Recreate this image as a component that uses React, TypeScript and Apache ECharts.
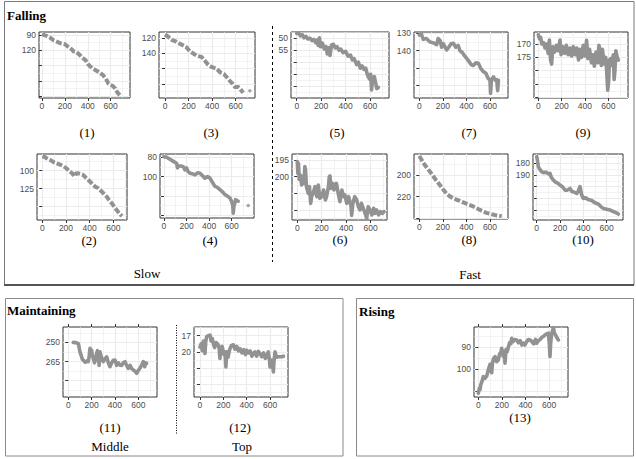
import React, { useEffect, useRef } from "react";
import * as echarts from "echarts";

// ---------- data (x = step, y = value; y axes are reversed) ----------
const xMajor = [0, 200, 400, 600];
const xMinor = [100, 300, 500, 700];

const p1 = [[0,88],[20,90],[45,92],[70,95],[100,100],[130,103],[160,106],[200,108],[230,113],[260,118],[275,122],[300,123],[330,129],[350,134],[380,139],[405,148],[420,151],[445,156],[470,159],[500,163],[530,168],[555,174],[580,185],[600,188],[620,190],[640,195],[660,203],[680,208],[695,210]];
const p3 = [[0,115],[20,117],[57,122],[90,124],[113,126],[150,129],[184,132],[210,137],[240,140],[270,143],[311,144.5],[340,150],[367,155],[400,158],[438,160],[470,165],[500,167],[523,171],[550,176],[575,180],[593,184],[620,184],[636,186],[650,189],[663,192]];
const p3Extra = [[720,189]];
const p5 = [[0,48],[15,47.8],[30,49],[45,48.5],[60,49.8],[75,49.2],[90,50.3],[110,50],[125,51],[140,50.5],[155,51.8],[165,50.8],[175,53],[185,49.8],[195,53.5],[210,52],[225,54.5],[240,53.5],[250,56.5],[262,54],[272,57.2],[285,52.8],[300,52.5],[315,54],[330,53.5],[345,55],[360,54.5],[380,56],[400,55.5],[420,57.5],[440,57],[455,59],[470,58.5],[490,61],[505,60],[520,62.5],[535,61.5],[550,63],[565,62.5],[580,65.5],[595,67],[605,65],[612,71.5],[620,67.5],[635,66],[645,68.5],[655,71],[668,70.5]];
const p7 = [[0,131],[15,130],[34,133.5],[60,133],[91,135],[120,135.5],[148,136.5],[160,133],[176,134],[190,138],[205,136],[232,139.6],[250,138],[270,136],[289,135.7],[310,138],[330,137],[345,140],[365,141],[385,143],[402,144.4],[420,146],[440,148],[458,148.5],[480,147],[501,147.2],[520,150],[543,152],[565,153],[585,156],[600,156.8],[605,164.5],[612,157],[630,155],[645,157],[657,156.8],[665,163],[672,157]];
const p9 = [[0,166.5],[10,168],[20,167.5],[30,170],[45,169.5],[57,171.5],[70,170],[85,173.5],[95,168.5],[105,176],[114,177.5],[125,171],[140,173],[155,170.5],[170,172.5],[186,168.5],[195,174],[210,171],[225,173.5],[240,170.5],[255,174],[271,171.5],[285,174.5],[300,171],[315,174],[330,171.5],[345,176],[357,172],[370,175],[385,170.5],[400,174.5],[414,168.6],[425,175.5],[440,172],[455,177],[471,174],[480,178.3],[495,173],[510,177],[520,170.5],[529,172.2],[540,178],[550,172],[565,177.5],[578,175],[586,180],[595,187.3],[603,184],[610,176],[620,175.5],[630,178],[643,174],[650,183.3],[657,180],[665,172.5],[675,174.7],[686,176]];
const p2 = [[0,80],[20,81],[40,83],[65,85],[95,88],[122,89.7],[150,91.5],[178,93.5],[205,97],[234,101.4],[255,104],[270,108],[285,104],[304,103.6],[330,105],[347,106],[370,110],[389,112.9],[415,117],[446,122.2],[470,124],[488,126.8],[515,131],[544,136],[565,141],[587,145.3],[600,148],[615,152],[629,154.6],[645,158],[660,161],[675,163]];
const p4 = [[0,79.4],[25,80],[53,82.1],[80,84],[112,86.2],[120,91],[130,89],[150,89],[171,89.7],[186,93],[200,91],[215,95],[230,96.5],[250,97],[275,98.2],[300,96],[319,96.5],[340,99],[363,101.6],[385,100],[408,101.6],[425,105],[440,108],[452,110.2],[470,111],[496,113.6],[520,116],[541,118.8],[560,120],[585,122.2],[600,126],[610,130],[614,137.9],[620,131],[635,124],[658,125.6]];
const p4Extra = [[747,130]];
const p6 = [[0,195.5],[5,199],[10,196],[16,200.8],[25,199.5],[36,202.5],[45,200],[55,202],[62,197],[68,198],[75,203],[90,205],[100,203],[110,208],[117,206],[130,205],[145,203],[160,206],[172,202.5],[185,206.5],[199,206],[215,204],[230,207],[240,205.9],[255,203],[262,200],[268,199.8],[275,203.5],[290,202],[300,204],[309,203],[320,202],[335,205],[349,207.5],[365,204],[380,206],[390,205.5],[405,208],[420,206],[431,207.5],[440,209],[445,211.6],[455,208],[470,206],[486,207],[500,209],[513,210],[525,208],[540,209.5],[555,211],[568,212.5],[580,209],[595,210],[610,211.5],[625,209.5],[636,211],[650,210],[665,211.5],[680,210.5],[695,211],[710,210.5]];
const p8 = [[0,182.5],[17,185.5],[34,188.7],[55,192],[76,195],[98,198],[119,201.2],[140,204.5],[161,207.4],[183,210.5],[204,213.6],[230,217],[260,219.8],[290,221.5],[317,222.9],[345,224],[374,225.4],[415,227.3],[458,229.1],[500,231.5],[543,233.8],[570,235],[600,235.9],[640,237],[685,237.8],[700,238]];
const p10 = [[0,174.3],[7,178],[14,182.9],[25,185],[43,187.2],[60,188],[80,187.5],[100,189],[114,188.6],[125,192],[143,194.3],[160,196],[180,197],[200,198.6],[220,200],[243,202.9],[260,203],[286,201.5],[300,204],[320,204.5],[343,205.8],[355,204],[371,200],[385,207],[400,210],[420,209.5],[440,211],[457,211.4],[475,212],[495,213.5],[514,214.3],[530,215],[550,217],[571,218.6],[590,219],[610,219.5],[629,220],[650,221],[675,222],[700,223.4]];
const p11 = [[43,250],[60,250.2],[86,250.8],[93,254],[100,257.3],[110,260],[120,263],[129,264],[145,265.5],[160,264.5],[171,265.1],[178,262],[186,254.7],[195,257],[200,256],[206,260],[214,262.2],[225,266],[235,263],[243,258.6],[250,256.5],[257,258],[264,268],[271,257.3],[285,262],[300,265.1],[314,263],[329,261.3],[343,266],[357,269],[372,266],[386,264],[400,263.8],[415,268],[429,266],[443,267.7],[457,268],[472,266],[486,265.1],[500,268],[514,270.3],[529,268],[543,270.5],[557,271.6],[572,272.5],[586,274.2],[600,272],[615,270],[629,267.7],[643,265],[655,269],[662,266],[671,266.4]];
const p12 = [[0,19.1],[10,18.5],[20,19.8],[29,18],[36,18.7],[43,20.3],[50,18],[57,17.2],[70,17],[86,16.9],[95,18],[105,17.5],[114,18.4],[125,19.2],[140,18.3],[157,18.7],[165,19.5],[171,21.2],[178,19.5],[190,19],[205,20.5],[215,20],[222,22.8],[229,20],[240,21],[255,19.5],[270,18.8],[286,18.7],[300,19.5],[315,19],[330,19.8],[343,19.4],[360,20.2],[375,19.6],[390,20.5],[400,19.7],[415,20.2],[430,19.8],[445,20.8],[457,20.3],[470,20],[485,20.8],[500,19.9],[514,20.3],[530,20.9],[545,20.2],[560,21.2],[571,20.9],[585,20],[595,21.5],[600,22.8],[610,21.5],[620,22],[629,23.7],[635,21.5],[643,20],[655,21],[670,20.9],[685,20.9],[700,20.9],[715,20.8]];
const p13 = [[0,110.7],[8,108.5],[15,109],[20,106.9],[30,105.5],[42,103.2],[55,104],[71,103],[85,100],[99,97.7],[106,100],[113,101.5],[120,97],[130,95],[142,94.2],[155,96.5],[170,95.7],[180,93],[190,92.5],[198,90.5],[210,94],[220,92],[226,97.2],[235,91],[245,92],[255,89.9],[265,88],[275,88.5],[283,86],[295,87.5],[310,86.5],[325,86.7],[340,88],[355,87],[370,89],[382,88.2],[395,89],[410,87.5],[425,86.5],[439,86.7],[455,87.5],[470,88.5],[485,86.5],[495,88.2],[510,87],[525,86.5],[540,85.5],[552,85.2],[565,84.5],[580,84],[594,83.7],[602,88],[608,94.2],[614,88],[622,84],[630,82.5],[637,81.2],[645,83.5],[660,85],[670,86],[679,86.7]];

// y tick values / labelled ticks / minor grid values per panel
const yT1 = [90,120,150,180,210], yL1 = [90,120], yM1 = [105,135,165,195];
const yT3 = [120,140,160,180], yL3 = [120,140], yM3 = [130,150,170,190];
const yT5 = [50,55,60,65,70], yL5 = [50,55], yM5 = [47.5,52.5,57.5,62.5,67.5,72.5];
const yT7 = [130,140,150,160], yL7 = [130,140], yM7 = [135,145,155,165];
const yT9 = [170,175,180,185,190], yL9 = [170,175], yM9 = [167.5,172.5,177.5,182.5,187.5];
const yT2 = [100,125,150], yL2 = [100,125], yM2 = [87.5,112.5,137.5,162.5];
const yT4 = [80,100,120,140], yL4 = [80,100], yM4 = [90,110,130];
const yT6 = [195,200,205,210], yL6 = [195,200], yM6 = [197.5,202.5,207.5,212.5];
const yT8 = [200,220,240], yL8 = [200,220], yM8 = [190,210,230];
const yT10 = [180,190,200,210,220], yL10 = [180,190], yM10 = [175,185,195,205,215,225];
const yT11 = [250,265,280], yL11 = [250,265], yM11 = [242.5,257.5,272.5,287.5];
const yT12 = [17,20,23,26], yL12 = [17,20], yM12 = [15.5,18.5,21.5,24.5,27.5];
const yT13 = [90,100,110], yL13 = [90,100], yM13 = [85,95,105];

// ---------- layout ----------
const panels: any[] = [
  { name: "(1)", data: p1, l: 39, t: 32, r: 130, b: 98, x: [-26, 769], y: [84, 213.5], yt: yT1, yl: yL1, ym: yM1, dashed: true, lx: 87, ly: 132 },
  { name: "(3)", data: p3, extra: p3Extra, l: 159, t: 32, r: 255, b: 98, x: [-51, 764], y: [111.7, 198.6], yt: yT3, yl: yL3, ym: yM3, dashed: true, lx: 211, ly: 132 },
  { name: "(5)", data: p5, l: 291, t: 32, r: 389, b: 98, x: [-47, 755], y: [47.4, 74.9], yt: yT5, yl: yL5, ym: yM5, lx: 337, ly: 132 },
  { name: "(7)", data: p7, l: 414, t: 32, r: 508, b: 98, x: [-45, 753], y: [129.25, 167.2], yt: yT7, yl: yL7, ym: yM7, lx: 469, ly: 132 },
  { name: "(9)", data: p9, l: 534, t: 32, r: 628, b: 98, x: [-37, 769], y: [165.5, 190.2], yt: yT9, yl: yL9, ym: yM9, lx: 583, ly: 132 },
  { name: "(2)", data: p2, l: 37, t: 154, r: 127, b: 220, x: [-45, 716], y: [76.8, 168.5], yt: yT2, yl: yL2, ym: yM2, dashed: true, lx: 89, ly: 240 },
  { name: "(4)", data: p4, extra: p4Extra, l: 160, t: 154, r: 254, b: 218, x: [-35, 798], y: [76.6, 143], yt: yT4, yl: yL4, ym: yM4, lx: 210, ly: 240 },
  { name: "(6)", data: p6, l: 292, t: 154, r: 387, b: 220, x: [-43, 734], y: [193.2, 213], yt: yT6, yl: yL6, ym: yM6, lx: 340, ly: 239 },
  { name: "(8)", data: p8, l: 414, t: 154, r: 508, b: 219, x: [-45, 753], y: [180.6, 240.7], yt: yT8, yl: yL8, ym: yM8, dashed: true, lx: 469, ly: 239 },
  { name: "(10)", data: p10, l: 533, t: 154, r: 623, b: 220, x: [-32, 740], y: [172, 228.5], yt: yT10, yl: yL10, ym: yM10, lx: 583, ly: 239 },
  { name: "(11)", data: p11, l: 63, t: 327, r: 157, b: 397, x: [-45, 760], y: [238, 292.7], yt: yT11, yl: yL11, ym: yM11, topTicks: true, lx: 110, ly: 427 },
  { name: "(12)", data: p12, l: 194, t: 327, r: 288, b: 397, x: [-51, 754], y: [15.4, 28.35], yt: yT12, yl: yL12, ym: yM12, lx: 240, ly: 427 },
  { name: "(13)", data: p13, l: 474, t: 327, r: 568, b: 397, x: [-37, 761], y: [80.9, 112.4], yt: yT13, yl: yL13, ym: yM13, topTicks: true, lx: 520, ly: 417 },
];

const SANS = '"Liberation Sans", Arial, sans-serif';
const SERIF = "Liberation Serif";
const GRID = "#ebebeb";
const MARK = "#929292";

function buildOption() {
  const grid: any[] = [];
  const xAxis: any[] = [];
  const yAxis: any[] = [];
  const series: any[] = [];
  const graphic: any[] = [];

  const txt = (text: string, x: number, y: number, bold = false, align = "left") => ({
    type: "text", x, y, silent: true,
    style: {
      text, fontFamily: SERIF, fontSize: 13, fontWeight: bold ? "bold" : "normal", fill: "#000",
      textAlign: align, textVerticalAlign: "middle", align, verticalAlign: "middle",
    },
  });

  panels.forEach((p, i) => {
    grid.push({
      left: p.l, top: p.t, width: p.r - p.l, height: p.b - p.t,
      show: true, borderColor: "#333", borderWidth: 1, backgroundColor: "#fff",
      containLabel: false, outerBoundsMode: "none",
    });
    const xi = xAxis.length;
    xAxis.push({
      gridIndex: i, type: "value", min: p.x[0], max: p.x[1], position: "bottom",
      axisLine: { show: false },
      axisTick: { show: true, customValues: xMajor, length: 3, lineStyle: { color: "#333", width: 1 } },
      axisLabel: { customValues: xMajor, fontSize: 8.5, color: "#4d4d4d", margin: 3, fontFamily: SANS },
      splitLine: { show: true, lineStyle: { color: GRID, width: 1.2 } },
    });
    xAxis.push({
      gridIndex: i, type: "value", min: p.x[0], max: p.x[1], position: "top",
      axisLine: { show: false },
      axisTick: { show: false, customValues: xMinor },
      axisLabel: { show: false },
      splitLine: { show: true, lineStyle: { color: GRID, width: 0.6 } },
    });
    if (p.topTicks) {
      xAxis.push({
        gridIndex: i, type: "value", min: p.x[0], max: p.x[1], position: "top",
        axisLine: { show: false },
        axisTick: { show: true, inside: false, customValues: xMajor, length: 3, lineStyle: { color: "#333", width: 1 } },
        axisLabel: { show: false },
        splitLine: { show: false },
      });
    }
    const yi = yAxis.length;
    yAxis.push({
      gridIndex: i, type: "value", inverse: true, min: p.y[0], max: p.y[1], position: "left",
      axisLine: { show: false },
      axisTick: { show: true, customValues: p.yt, length: 3, lineStyle: { color: "#333", width: 1 } },
      axisLabel: { customValues: p.yl, fontSize: 8.5, color: "#4d4d4d", margin: 3, fontFamily: SANS },
      splitLine: { show: true, lineStyle: { color: GRID, width: 1.2 } },
    });
    yAxis.push({
      gridIndex: i, type: "value", inverse: true, min: p.y[0], max: p.y[1], position: "right",
      axisLine: { show: false },
      axisTick: { show: false, customValues: p.ym },
      axisLabel: { show: false },
      splitLine: { show: true, lineStyle: { color: GRID, width: 0.6 } },
    });
    series.push({
      type: "line", xAxisIndex: xi, yAxisIndex: yi, data: p.data,
      symbol: "none", showSymbol: false, silent: true, clip: true,
      lineStyle: {
        color: MARK, width: p.dashed ? 4 : 3.6,
        type: p.dashed ? [6, 2] : "solid",
        cap: p.dashed ? "butt" : "round", join: "round",
      },
    });
    if (p.extra) {
      series.push({
        type: "scatter", xAxisIndex: xi, yAxisIndex: yi, data: p.extra,
        symbolSize: 3.5, silent: true, itemStyle: { color: MARK },
      });
    }
    graphic.push(txt(p.name, p.lx, p.ly, false, "center"));
  });

  graphic.push(
    { type: "rect", silent: true, shape: { x: 4.5, y: 1.5, width: 629.5, height: 283.5 }, style: { fill: "none", stroke: "#7a7a7a", lineWidth: 1 } },
    { type: "line", silent: true, shape: { x1: 4, y1: 285, x2: 634, y2: 285 }, style: { stroke: "#333", lineWidth: 1.5 } },
    { type: "rect", silent: true, shape: { x: 5.5, y: 298.5, width: 337.5, height: 157.5 }, style: { fill: "none", stroke: "#8a8a8a", lineWidth: 1 } },
    { type: "rect", silent: true, shape: { x: 356.5, y: 298.5, width: 277, height: 157.5 }, style: { fill: "none", stroke: "#8a8a8a", lineWidth: 1 } },
    { type: "line", silent: true, shape: { x1: 272.5, y1: 26, x2: 272.5, y2: 262 }, style: { stroke: "#000", lineWidth: 1, lineDash: [3, 3] } },
    { type: "line", silent: true, shape: { x1: 176.5, y1: 325, x2: 176.5, y2: 435 }, style: { stroke: "#000", lineWidth: 1, lineDash: [1, 1.5] } },
    txt("Falling", 7, 15, true),
    txt("Maintaining", 7, 310, true),
    txt("Rising", 359, 311, true),
    txt("Slow", 147, 273, false, "center"),
    txt("Fast", 470, 274, false, "center"),
    txt("Middle", 110, 446, false, "center"),
    txt("Top", 242, 446, false, "center"),
  );

  return { animation: false, backgroundColor: "#fff", grid, xAxis, yAxis, series, graphic };
}

export default function App() {
  const ref = useRef<HTMLDivElement>(null);
  useEffect(() => {
    document.body.style.margin = "0";
    if (!ref.current) return;
    const chart = echarts.init(ref.current, undefined, { renderer: "svg" });
    chart.setOption(buildOption() as any);
    return () => chart.dispose();
  }, []);
  return <div ref={ref} style={{ position: "absolute", left: 0, top: 0, width: 636, height: 459 }} />;
}
